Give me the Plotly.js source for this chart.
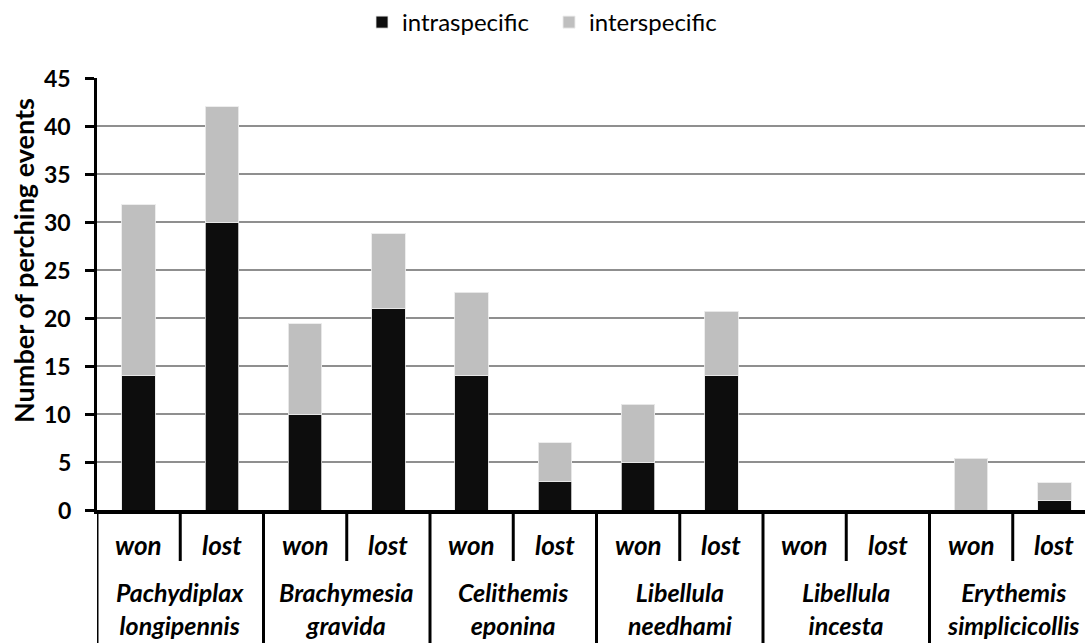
<!DOCTYPE html>
<html>
<head>
<meta charset="utf-8">
<script src="https://cdn.plot.ly/plotly-3.0.1.min.js"></script>
<style>html,body{margin:0;padding:0;background:#fff;}#chart{width:1085px;height:643px;}</style>
</head>
<body>
<div id="chart"></div>
<script>
// ---- data ----
const species = ['Pachydiplax<br>longipennis', 'Brachymesia<br>gravida', 'Celithemis<br>eponina',
                 'Libellula<br>needhami', 'Libellula<br>incesta', 'Erythemis<br>simplicicollis'];
const outcomes = ['won', 'lost'];
const intraspecific = [14, 30, 10, 21, 14, 3, 5, 14, 0, 0, 0, 1];
const interspecific = [17.8, 12, 9.4, 7.8, 8.7, 4, 6, 6.7, 0, 0, 5.4, 1.85];
const yTicks = [0, 5, 10, 15, 20, 25, 30, 35, 40, 45];
const seriesNames = ['intraspecific', 'interspecific'];
const yTitle = 'Number of perching events';

// ---- build ----
const xIdx = [];
const outLabels = [];
species.forEach((s, g) => outcomes.forEach((o, k) => { xIdx.push(g * outcomes.length + k); outLabels.push(o); }));

const FONT = 'Lato, "Open Sans", sans-serif';
const plotW = 1085 - 97;
const plotH = 643 - 78 - 133;

const traces = [
  {type: 'bar', name: seriesNames[0], x: xIdx, y: intraspecific, width: 0.4,
   marker: {color: '#0d0d0d', line: {color: 'rgba(230,230,230,0.8)', width: 1}}},
  {type: 'bar', name: seriesNames[1], x: xIdx, y: interspecific, width: 0.4,
   marker: {color: '#bfbfbf', line: {color: 'rgba(235,235,235,0.9)', width: 1}}}
];

const annotations = [];
outLabels.forEach((o, i) => annotations.push({
  xref: 'x', yref: 'paper', x: xIdx[i], y: -35 / plotH, yanchor: 'middle', xanchor: 'center',
  text: '<b><i>' + o + '</i></b>', showarrow: false, bgcolor: '#fff', borderpad: 2,
  font: {family: FONT, size: 26, color: '#000'}
}));
species.forEach((s, g) => annotations.push({
  xref: 'x', yref: 'paper', x: g * outcomes.length + (outcomes.length - 1) / 2, y: -98 / plotH,
  yanchor: 'middle', xanchor: 'center', text: '<b><i>' + s + '</i></b>', showarrow: false,
  bgcolor: '#fff', borderpad: 1,
  font: {family: FONT, size: 25, color: '#000'}
}));
yTicks.forEach(v => annotations.push({
  xref: 'paper', yref: 'y', x: 0, y: v, xanchor: 'right', yanchor: 'middle', xshift: -24,
  text: '<b>' + v + '</b>', showarrow: false, bgcolor: '#fff', borderpad: 1,
  font: {family: FONT, size: 23, color: '#000'}
}));
annotations.push({
  xref: 'paper', yref: 'paper', x: (23 - 97) / plotW, y: (510 - 261) / plotH, xanchor: 'center', yanchor: 'middle',
  textangle: -90, text: '<b>' + yTitle + '</b>', showarrow: false,
  font: {family: FONT, size: 27, color: '#000'}
});

const shapes = [];
const nG = species.length, nO = outcomes.length;
for (let g = 0; g <= nG; g++) {
  shapes.push({type: 'line', xref: 'x', yref: 'paper', x0: g * nO - 0.5, x1: g * nO - 0.5,
    y0: 0, y1: -133 / plotH, line: {color: '#000', width: 3}});
}
for (let g = 0; g < nG; g++) {
  shapes.push({type: 'line', xref: 'x', yref: 'paper', x0: g * nO + 0.5, x1: g * nO + 0.5,
    y0: 0, y1: -51 / plotH, line: {color: '#000', width: 3}});
}

const layout = {
  width: 1085, height: 643,
  margin: {l: 97, r: 0, t: 78, b: 133},
  paper_bgcolor: '#fff', plot_bgcolor: '#fff',
  barmode: 'stack',
  font: {family: FONT, color: '#000'},
  showlegend: true,
  legend: {orientation: 'h', x: (362 - 97) / plotW, xanchor: 'left', y: 1 + (78 - 22) / plotH, yanchor: 'middle',
           entrywidth: 142, font: {family: FONT, size: 24, color: '#000'}, traceorder: 'normal'},
  xaxis: {range: [-0.5, -0.5 + plotW / 83.25], showticklabels: false, ticks: '', showgrid: false,
          zeroline: false, showline: true, linecolor: '#000', linewidth: 4, fixedrange: true},
  yaxis: {range: [0, 45], tickvals: yTicks, showticklabels: false, ticks: 'outside', ticklen: 9, tickwidth: 3,
          tickcolor: '#000', showgrid: true, gridcolor: '#8f8f8f', gridwidth: 1.5, zeroline: false,
          showline: true, linecolor: '#000', linewidth: 3},
  annotations: annotations,
  shapes: shapes
};

Plotly.newPlot('chart', traces, layout, {displayModeBar: false, staticPlot: true});
</script>
</body>
</html>
